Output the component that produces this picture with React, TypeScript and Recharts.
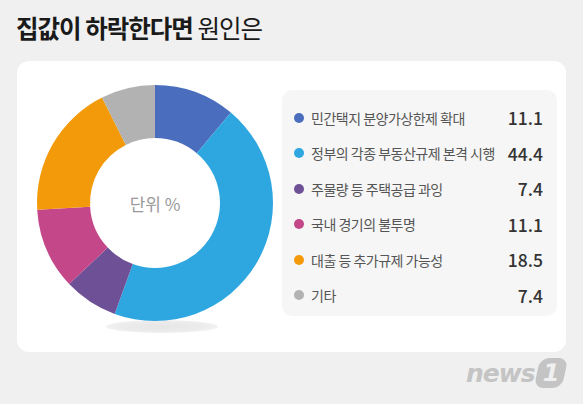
import React from 'react';
import { PieChart, Pie, Cell, Legend } from 'recharts';

const CATEGORIES = [
  '민간택지 분양가상한제 확대',
  '정부의 각종 부동산규제 본격 시행',
  '주물량 등 주택공급 과잉',
  '국내 경기의 불투명',
  '대출 등 추가규제 가능성',
  '기타',
];
const VALUES = [11.1, 44.4, 7.4, 11.1, 18.5, 7.4];
const COLORS = ['#4a6ebd', '#2ea7e0', '#6e5096', '#c4478a', '#f29a0a', '#b2b2b2'];

const FONT = '"Noto Sans CJK KR", "Noto Sans", sans-serif';

const data = CATEGORIES.map((name, i) => ({ name, value: VALUES[i] }));

const LegendBox = () => (
  <div
    style={{
      width: 275,
      height: 226,
      background: '#f6f6f6',
      borderRadius: 10,
      boxSizing: 'border-box',
      padding: '10px 14px 0 12px',
    }}
  >
    {data.map((d, i) => (
      <div
        key={d.name}
        style={{ display: 'flex', alignItems: 'center', height: 35.5, fontFamily: FONT }}
      >
        <span
          style={{
            width: 10,
            height: 10,
            borderRadius: 5,
            background: COLORS[i],
            marginRight: 7,
            flexShrink: 0,
          }}
        />
        <span style={{ flex: 1, fontSize: 14, color: '#555', letterSpacing: -0.5, whiteSpace: 'nowrap' }}>
          {d.name}
        </span>
        <span style={{ fontSize: 17.5, color: '#333', fontWeight: 500 }}>{d.value.toFixed(1)}</span>
      </div>
    ))}
  </div>
);

export default function App() {
  return (
    <div
      style={{
        position: 'fixed',
        left: 0,
        top: 0,
        width: 583,
        height: 404,
        background: '#f0f0f0',
        fontFamily: FONT,
        overflow: 'hidden',
      }}
    >
      <div
        style={{
          position: 'absolute',
          left: 16,
          top: 10,
          fontSize: 24.5,
          color: '#1a1a1a',
          letterSpacing: -1.0,
          whiteSpace: 'nowrap',
        }}
      >
        <span style={{ fontWeight: 700 }}>집값이 하락한다면</span>{' '}
        <span style={{ fontWeight: 400 }}>원인은</span>
      </div>
      <div
        style={{
          position: 'absolute',
          left: 17,
          top: 61,
          width: 549,
          height: 291,
          background: '#ffffff',
          borderRadius: 12,
        }}
      />
      <div
        style={{
          position: 'absolute',
          left: 106,
          top: 320,
          width: 112,
          height: 13,
          borderRadius: '50%',
          background: 'radial-gradient(ellipse at center, #e6e6e6 0%, #ececec 55%, rgba(255,255,255,0) 100%)',
        }}
      />
      <div style={{ position: 'absolute', left: 0, top: 0 }}>
        <PieChart width={583} height={404} margin={{ top: 0, right: 0, bottom: 0, left: 0 }}>
          <Pie
            data={data}
            dataKey="value"
            nameKey="name"
            cx={155}
            cy={203}
            innerRadius={65}
            outerRadius={118}
            startAngle={90}
            endAngle={-270}
            stroke="none"
            isAnimationActive={false}
          >
            {data.map((entry, index) => (
              <Cell key={`cell-${index}`} fill={COLORS[index]} />
            ))}
          </Pie>
          <text
            x={155}
            y={203}
            textAnchor="middle"
            dominantBaseline="central"
            fontSize={17}
            fill="#9a9a9a"
            fontFamily={FONT}
          >
            단위 %
          </text>
          <Legend
            layout="vertical"
            align="right"
            verticalAlign="top"
            content={() => <LegendBox />}
            wrapperStyle={{ position: 'absolute', left: 282, top: 90, width: 275 }}
          />
        </PieChart>
      </div>
      <div
        style={{
          position: 'absolute',
          left: 466,
          top: 358,
          display: 'flex',
          alignItems: 'center',
          color: '#c4c4c4',
        }}
      >
        <span
          style={{
            fontFamily: '"DejaVu Sans", sans-serif',
            fontSize: 25,
            fontWeight: 700,
            fontStyle: 'italic',
            letterSpacing: -1,
          }}
        >
          news
        </span>
        <span
          style={{
            marginLeft: 2,
            width: 28,
            height: 30,
            borderRadius: 9,
            background: '#c4c4c4',
            transform: 'skewX(-12deg)',
            color: '#f0f0f0',
            fontFamily: '"DejaVu Sans", sans-serif',
            fontWeight: 700,
            fontSize: 24,
            display: 'flex',
            alignItems: 'center',
            justifyContent: 'center',
          }}
        >
          1
        </span>
      </div>
    </div>
  );
}
